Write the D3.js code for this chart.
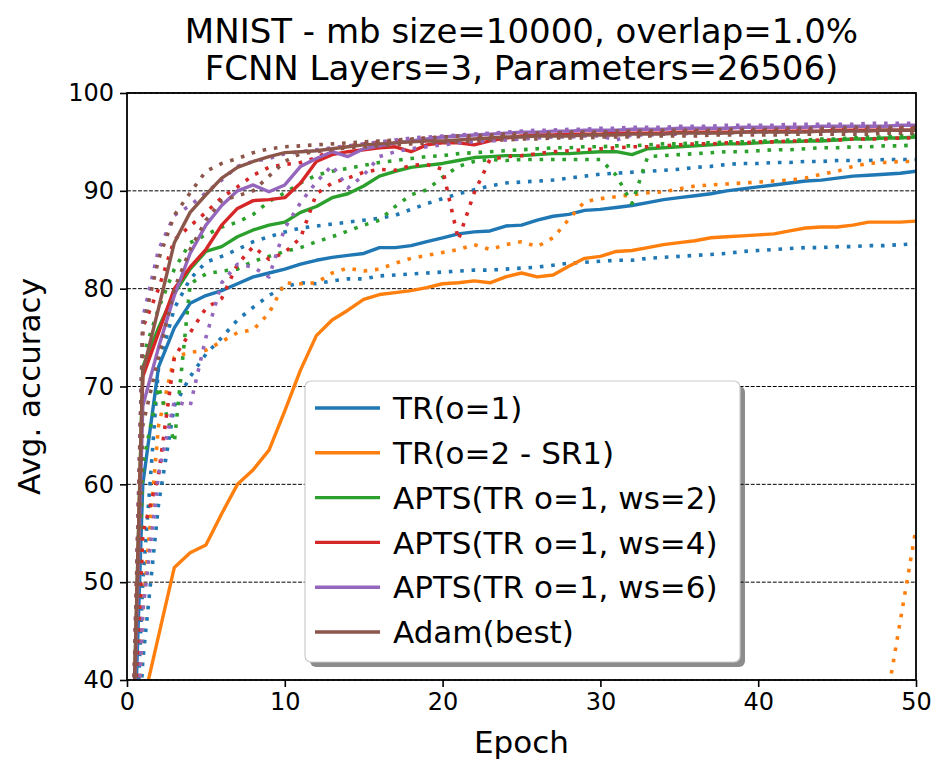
<!DOCTYPE html>
<html>
<head>
<meta charset="utf-8">
<script src="https://cdn.jsdelivr.net/npm/d3@7"></script>
<style>
  html, body { margin: 0; padding: 0; background: #fff; }
  svg { display: block; font-family: "DejaVu Sans", sans-serif; }
</style>
</head>
<body>
<svg id="chart" width="933" height="760"></svg>
<script>
// ---- data ---------------------------------------------------------------
const epochs = [0,1,2,3,4,5,6,7,8,9,10,11,12,13,14,15,16,17,18,19,20,21,22,23,24,25,
  26,27,28,29,30,31,32,33,34,35,36,37,38,39,40,41,42,43,44,45,46,47,48,49,50];

const xTicks = [0, 10, 20, 30, 40, 50];
const yTicks = [40, 50, 60, 70, 80, 90, 100];

const titleLines = ["MNIST - mb size=10000, overlap=1.0%", "FCNN Layers=3, Parameters=26506)"];

const seriesNames = ["TR(o=1)", "TR(o=2 - SR1)", "APTS(TR o=1, ws=2)",
  "APTS(TR o=1, ws=4)", "APTS(TR o=1, ws=6)", "Adam(best)"];
const seriesColors = ["#1f77b4", "#ff7f0e", "#2ca02c", "#d62728", "#9467bd", "#8c564b"];

// TR(o=1)
const tr1Mean = [10.5,60,72,76,78.5,79.3,79.8,80.5,81.2,81.6,82,82.5,82.9,83.2,83.4,83.6,84.2,84.2,84.4,84.8,
  85.2,85.6,85.8,85.9,86.4,86.5,87,87.4,87.6,88,88.1,88.3,88.5,88.8,89.1,89.3,89.5,89.7,90,90.2,
  90.4,90.6,90.8,91,91.1,91.3,91.5,91.6,91.7,91.8,92];
const tr1Max = [11,50,72,78,81,82.7,83.3,84,84.8,85.3,85.8,86.2,86.4,86.6,86.8,87,87.2,87.5,88.1,88.7,
  89.2,89.7,90.1,90.5,90.8,90.9,91,91.1,91.3,91.5,91.7,91.8,91.9,92,92.1,92.2,92.4,92.5,92.7,92.8,
  92.8,92.9,92.9,93,93,93.1,93.1,93.1,93.2,93.2,93.2];
const tr1Min = [10,42,58,68,71,73.3,75,76.8,78.1,79.3,80.2,80.6,80.5,80.8,81,81,81.3,81.4,81.5,81.6,
  81.7,81.8,81.9,81.9,82,82.1,82.2,82.4,82.6,82.7,82.8,82.9,82.9,83.1,83.2,83.3,83.4,83.5,83.6,83.8,
  83.9,84,84.1,84.2,84.2,84.3,84.3,84.4,84.4,84.5,84.6];

// TR(o=2 - SR1)
const tr2Mean = [10,37.5,44.5,51.5,53,53.8,57,60,61.5,63.5,67.5,71.7,75.2,76.8,77.8,78.9,79.4,79.6,79.8,80.1,
  80.5,80.6,80.8,80.6,81.2,81.6,81.2,81.4,82.3,83.1,83.3,83.8,83.9,84.2,84.5,84.7,84.9,85.2,85.3,85.4,
  85.5,85.6,85.9,86.2,86.3,86.3,86.5,86.8,86.8,86.8,86.9];
const tr2Max = [10,47,66,73,73.5,73.7,74.6,75.5,75.8,77.5,80.6,80.5,80.6,81.6,82.1,81.8,82,82.6,83.1,83.4,
  83.7,84,84.5,84,84.5,84.8,84.3,85.2,87.1,88.9,89.2,89.4,89.6,89.8,89.9,90.2,90.5,90.6,90.7,90.8,
  90.9,91,91.1,91.3,91.7,92,92.5,92.8,92.9,93,93];
const tr2Min = [10,10.4,10.9,11.2,10.8,11.3,11.1,10.6,10.9,11.4,11,11.2,10.7,11.3,11,11.1,10.8,11.2,11.4,11,
  10.9,11.3,11.1,10.8,11.2,11.5,11,11.3,10.9,11.1,11.4,11.2,10.8,11,11.3,11.1,11.4,10.9,11.2,11,
  11.3,11.1,10.8,11.2,11.4,11,11.3,11.1,36.5,46,55.5];

// APTS(TR o=1, ws=2)
const ws2Mean = [10,72,76,79.5,82,83.8,84.3,85.3,86,86.5,86.8,87.8,88.4,89.3,89.7,90.5,91.5,92,92.4,92.6,
  92.8,93.1,93.4,93.5,93.6,93.6,93.7,93.8,93.8,93.9,94,94,93.7,94.3,94.4,94.5,94.6,94.7,94.8,94.8,
  94.9,95,95,95.1,95.1,95.2,95.3,95.3,95.4,95.4,95.5];
const ws2Max = [10,73,78,82,84.7,85.5,86.3,86.8,87.6,88.9,89.8,90.8,91.6,92,92.3,92.6,92.9,93.1,93.3,93.5,
  93.6,93.8,93.9,94,94.1,94.2,94.3,94.4,94.4,94.5,94.5,94.6,94.6,94.7,94.8,94.8,94.9,94.9,95,95,
  95.1,95.1,95.2,95.2,95.3,95.3,95.4,95.5,95.5,95.6,95.7];
const ws2Min = [10,62,70,64.3,80.5,81.5,81.8,82,82.8,83.3,83.8,84.2,84.8,85.3,85.9,86.5,87,88.4,89.6,90.1,
  91.4,92.5,93,93.2,93.1,93.2,93.2,93.2,93.2,93.2,93.2,91.6,88.7,93.5,93.6,93.7,93.8,93.9,94,94,
  94.1,94.2,94.2,94.3,94.4,94.4,94.5,94.5,94.6,94.6,94.7];

// APTS(TR o=1, ws=4)
const ws4Mean = [10,71,75.5,80,82.2,84,86.5,88.2,89,89.1,89.3,90.8,93,93.7,94,94.2,94.4,94.5,94,94.7,
  94.9,94.9,94.7,95.1,95.4,95.6,95.7,95.7,95.8,95.8,95.8,95.9,95.9,95.9,95.9,96,96,96,96,96,
  96.1,96.1,96.1,96.1,96.1,96.2,96.2,96.2,96.2,96.2,96.2];
const ws4Max = [10,76,80,85,86.4,87.8,89.3,90.4,91.6,92.4,92.7,92.9,93.4,94.2,94.6,94.8,95,95.1,95.2,95.4,
  95.5,95.6,95.6,95.7,95.8,95.9,95.9,96,96,96.1,96.1,96.1,96.2,96.2,96.2,96.3,96.3,96.3,96.3,96.4,
  96.4,96.4,96.4,96.4,96.5,96.5,96.5,96.5,96.5,96.5,96.5];
const ws4Min = [10,55,61,73,75.5,78,79,82.5,84.3,83,83.7,85.2,89.7,90.8,91.3,91.9,92.2,92.1,92.6,92.7,
  92.2,85,89.8,93.2,93.5,93.6,93.8,94,94.1,94.2,94.3,94.4,94.5,94.5,94.6,94.7,94.8,94.8,94.9,94.9,
  95,95,95.1,95.1,95.2,95.2,95.3,95.3,95.3,95.4,95.4];

// APTS(TR o=1, ws=6)
const ws6Mean = [10,68,74,79.3,83.6,86.5,88.5,90,90.6,89.9,90.6,92.5,93.3,94,93.5,94.3,94.6,94.9,95.1,95.3,
  95.5,95.6,95.7,95.8,95.9,96,96,96.1,96.1,96.2,96.2,96.2,96.3,96.3,96.3,96.4,96.4,96.4,96.4,96.5,
  96.5,96.5,96.5,96.5,96.6,96.6,96.6,96.6,96.6,96.7,96.7];
const ws6Max = [10,77,84,87.5,88.5,89.8,91.1,92.5,93,93.3,93.8,94,94.2,94.4,94.6,94.8,95,95.2,95.4,95.5,
  95.6,95.7,95.8,95.9,96,96.1,96.2,96.2,96.3,96.3,96.4,96.4,96.5,96.5,96.5,96.6,96.6,96.6,96.7,96.7,
  96.7,96.7,96.8,96.8,96.8,96.8,96.8,96.9,96.9,96.9,96.9];
const ws6Min = [10,47,61,68.5,68,75,80.6,82.5,82.2,81.2,86.2,88.8,90.9,92.6,90.3,91.6,93.5,94,94.3,94.5,
  94.7,94.9,95,95.1,95.2,95.3,95.4,95.5,95.5,95.6,95.6,95.2,95.7,95.7,95.8,95.8,95.9,95.9,95.9,96,
  96,96,96,96.1,96.1,96.1,96.1,96.2,96.2,96.2,96.2];

// Adam(best)
const adamMean = [10,71.5,78,84.7,87.8,89.6,91.3,92.4,93,93.5,93.9,94,94.1,94.3,94.5,94.7,94.8,94.9,95,95.1,
  95.1,95.2,95.3,95.4,95.5,95.5,95.6,95.6,95.6,95.7,95.7,95.7,95.8,95.8,95.8,95.9,95.9,95.9,95.9,96,
  96,96,96,96,96.1,96.1,96.1,96.1,96.2,96.2,96.2];
const adamMax = [10,76,83,87.5,89.8,92,92.8,93.3,93.9,94.3,94.5,94.6,94.7,94.8,94.9,95,95.1,95.2,95.3,95.4,
  95.5,95.6,95.6,95.7,95.8,95.8,95.9,95.9,96,96,96,96.1,96.1,96.1,96.2,96.2,96.2,96.2,96.3,96.3,
  96.3,96.3,96.4,96.4,96.4,96.4,96.5,96.5,96.5,96.5,96.5];
const adamMin = [10,66,73,80,84,87,89,89.5,90,91.5,93,93.8,94,94.2,94.4,94.5,94.6,94.7,94.8,94.9,
  95,95,95.1,95.2,95.2,95.3,95.3,95.4,95.4,95.4,95.5,95.5,95.5,95.6,95.6,95.6,95.6,95.7,95.7,95.7,
  95.7,95.7,95.8,95.8,95.8,95.8,95.8,95.8,95.9,95.9,95.9];

const seriesMean = [tr1Mean, tr2Mean, ws2Mean, ws4Mean, ws6Mean, adamMean];
const seriesMax  = [tr1Max, tr2Max, ws2Max, ws4Max, ws6Max, adamMax];
const seriesMin  = [tr1Min, tr2Min, ws2Min, ws4Min, ws6Min, adamMin];

// ---- layout -------------------------------------------------------------
const W = 933, H = 760;
const margin = { left: 127, right: 17, top: 93, bottom: 80 };
const plotW = W - margin.left - margin.right;
const plotH = H - margin.top - margin.bottom;

const svg = d3.select("#chart");

const x = d3.scaleLinear().domain([0, 50]).range([margin.left, margin.left + plotW]);
const y = d3.scaleLinear().domain([40, 100]).range([margin.top + plotH, margin.top]);

svg.append("defs").append("clipPath").attr("id", "plotClip")
  .append("rect")
  .attr("x", margin.left).attr("y", margin.top)
  .attr("width", plotW).attr("height", plotH);

// horizontal dashed grid
svg.append("g")
  .selectAll("line")
  .data(yTicks)
  .join("line")
  .attr("x1", margin.left).attr("x2", margin.left + plotW)
  .attr("y1", d => y(d)).attr("y2", d => y(d))
  .attr("stroke", "#000").attr("stroke-width", 1)
  .attr("stroke-dasharray", "3.85,1.67");

// curves: solid = mean, dotted = min / max over runs
const line = d3.line().x((d, i) => x(epochs[i])).y(d => y(d));
const curves = svg.append("g").attr("clip-path", "url(#plotClip)");

seriesNames.forEach((name, k) => {
  const col = seriesColors[k];
  curves.append("path").datum(seriesMean[k])
    .attr("d", line).attr("fill", "none")
    .attr("stroke", col).attr("stroke-width", 3.4)
    .attr("stroke-linejoin", "round").attr("stroke-linecap", "butt");
  [seriesMin[k], seriesMax[k]].forEach(vals => {
    curves.append("path").datum(vals)
      .attr("d", line).attr("fill", "none")
      .attr("stroke", col).attr("stroke-width", 3.6)
      .attr("stroke-dasharray", "3.6,7.8")
      .attr("stroke-linejoin", "round").attr("stroke-linecap", "butt");
  });
});

// axes
const tickFont = 24;
const xAxis = d3.axisBottom(x).tickValues(xTicks).tickSize(7).tickPadding(6).tickFormat(d3.format("d"));
const yAxis = d3.axisLeft(y).tickValues(yTicks).tickSize(7).tickPadding(6).tickFormat(d3.format("d"));

const gx = svg.append("g").attr("transform", `translate(0,${margin.top + plotH})`).call(xAxis);
const gy = svg.append("g").attr("transform", `translate(${margin.left},0)`).call(yAxis);
[gx, gy].forEach(g => {
  g.select(".domain").remove();
  g.selectAll(".tick line").attr("stroke", "#000").attr("stroke-width", 1.6);
  g.selectAll(".tick text").attr("fill", "#000")
    .style("font-size", tickFont + "px").style("font-family", "DejaVu Sans");
});

// frame
svg.append("rect")
  .attr("x", margin.left).attr("y", margin.top)
  .attr("width", plotW).attr("height", plotH)
  .attr("fill", "none").attr("stroke", "#000").attr("stroke-width", 1.8);

// labels
svg.append("text")
  .attr("x", margin.left + plotW / 2).attr("y", 753)
  .attr("text-anchor", "middle").style("font-size", "31px")
  .text("Epoch");
svg.append("text")
  .attr("transform", `translate(40,${margin.top + plotH / 2}) rotate(-90)`)
  .attr("text-anchor", "middle").style("font-size", "31px")
  .text("Avg. accuracy");

svg.append("g").selectAll("text")
  .data(titleLines)
  .join("text")
  .attr("x", margin.left + plotW / 2)
  .attr("y", (d, i) => 43 + i * 37)
  .attr("text-anchor", "middle").style("font-size", "34px")
  .text(d => d);

// legend
const lg = { x: 305, y: 381, w: 435, h: 281, row: 44.8 };
const legend = svg.append("g");
legend.append("rect")
  .attr("x", lg.x + 5).attr("y", lg.y + 5)
  .attr("width", lg.w).attr("height", lg.h).attr("rx", 6)
  .attr("fill", "#000").attr("fill-opacity", 0.45);
legend.append("rect")
  .attr("x", lg.x).attr("y", lg.y)
  .attr("width", lg.w).attr("height", lg.h).attr("rx", 6)
  .attr("fill", "#fff").attr("stroke", "#ccc").attr("stroke-width", 1.2);

const entries = legend.selectAll("g.entry")
  .data(seriesNames)
  .join("g").attr("class", "entry")
  .attr("transform", (d, i) => `translate(${lg.x},${lg.y + 27 + i * lg.row})`);
entries.append("line")
  .attr("x1", 10).attr("x2", 75).attr("y1", 0).attr("y2", 0)
  .attr("stroke", (d, i) => seriesColors[i]).attr("stroke-width", 3.4);
entries.append("text")
  .attr("x", 88).attr("y", 0).attr("dy", "0.36em")
  .style("font-size", "31px")
  .text(d => d);
</script>
</body>
</html>
